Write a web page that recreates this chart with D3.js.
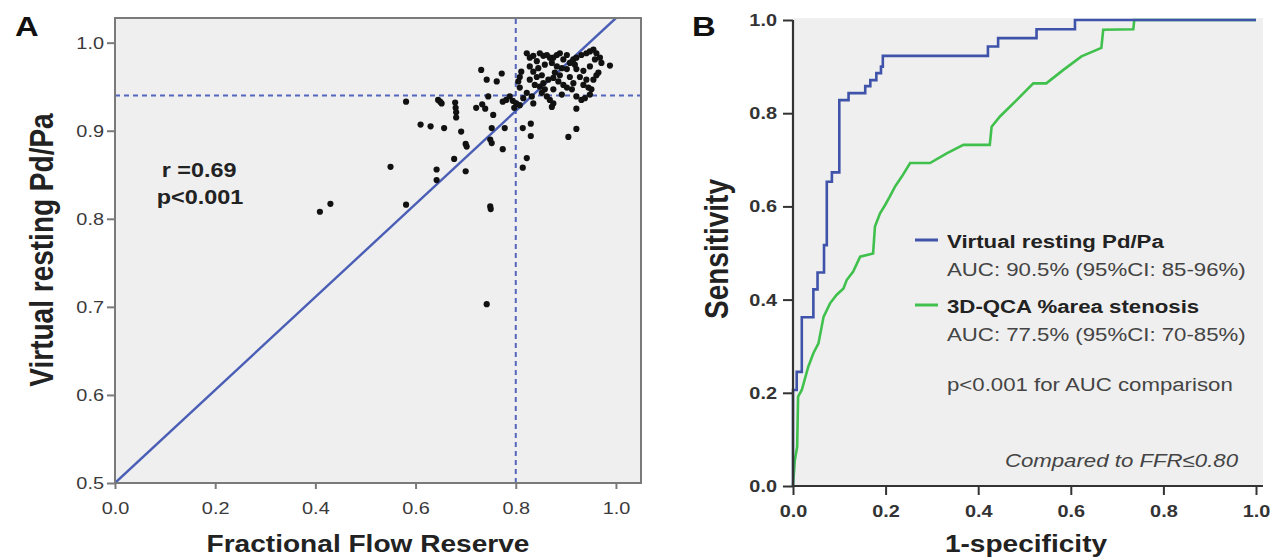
<!DOCTYPE html>
<html>
<head>
<meta charset="utf-8">
<script src="https://cdn.jsdelivr.net/npm/d3@7"></script>
<style>
  body { margin: 0; background: #fff; }
  svg { display: block; font-family: "Liberation Sans", Arial, sans-serif; }
</style>
</head>
<body>
<script>
(function(){

  //panel A: FFR vs virtual resting Pd/Pa (one value per lesion)
  var ffrValues = [0.409,0.430,0.550,0.581,0.581,0.645,0.649,0.652,0.610,0.630,
    0.657,0.642,0.642,0.679,0.680,0.681,0.681,0.691,0.700,0.702,
    0.677,0.700,0.731,0.742,0.762,0.772,0.721,0.733,0.739,0.745,
    0.755,0.752,0.749,0.752,0.774,0.778,0.749,0.750,0.742,0.814,
    0.830,0.830,0.822,0.814,0.905,0.921,0.921,0.872,0.988,0.774,
    0.781,0.788,0.794,0.801,0.797,0.808,0.808,0.808,0.811,0.805,
    0.822,0.828,0.835,0.842,0.848,0.855,0.862,0.868,0.875,0.882,
    0.888,0.895,0.902,0.908,0.915,0.921,0.931,0.941,0.948,0.955,
    0.961,0.958,0.948,0.935,0.921,0.928,0.941,0.955,0.961,0.965,
    0.828,0.835,0.845,0.858,0.872,0.882,0.892,0.902,0.918,0.828,
    0.838,0.848,0.855,0.865,0.875,0.885,0.895,0.902,0.912,0.921,
    0.931,0.938,0.948,0.951,0.862,0.852,0.868,0.875,0.822,0.815,
    0.832,0.842,0.852,0.878,0.888,0.908,0.915,0.935,0.945,0.971,
    0.968,0.875,0.892,0.858,0.835];
  var pdpaValues = [0.808,0.817,0.859,0.816,0.933,0.935,0.933,0.931,0.907,0.905,
    0.903,0.856,0.844,0.932,0.926,0.921,0.915,0.899,0.885,0.882,
    0.868,0.854,0.969,0.958,0.956,0.965,0.926,0.930,0.925,0.939,
    0.918,0.903,0.890,0.886,0.879,0.903,0.814,0.811,0.703,0.903,
    0.908,0.894,0.869,0.858,0.893,0.902,0.925,0.927,0.974,0.933,
    0.935,0.939,0.934,0.931,0.926,0.929,0.949,0.961,0.967,0.956,
    0.988,0.983,0.985,0.979,0.988,0.985,0.986,0.983,0.983,0.986,
    0.988,0.981,0.986,0.977,0.981,0.983,0.986,0.988,0.990,0.992,
    0.988,0.981,0.973,0.968,0.970,0.961,0.958,0.958,0.963,0.966,
    0.973,0.967,0.971,0.975,0.977,0.973,0.971,0.970,0.975,0.958,
    0.952,0.950,0.954,0.958,0.960,0.956,0.952,0.949,0.947,0.939,
    0.935,0.937,0.941,0.947,0.939,0.943,0.935,0.947,0.943,0.937,
    0.939,0.961,0.963,0.966,0.963,0.961,0.954,0.952,0.949,0.977,
    0.983,0.931,0.941,0.947,0.931];

  var fitIntercept = 0.5, fitSlope = 0.528; //fit line
  var ffrCutoff = 0.80, pdpaCutoff = 0.94;   //dashed reference lines
  var statText = ["r =0.69", "p<0.001"];

  var xTicksA = [0.0, 0.2, 0.4, 0.6, 0.8, 1.0];
  var yTicksA = [0.5, 0.6, 0.7, 0.8, 0.9, 1.0];
  var ticksB = [0.0, 0.2, 0.4, 0.6, 0.8, 1.0];

  //panel B: ROC curves (corner points)
  var virtualFpr = [0,0,0.008,0.008,0.019,0.019,0.044,0.044,0.053,0.053,0.067,0.067,0.073,0.073,
    0.084,0.084,0.100,0.100,0.120,0.120,0.156,0.156,0.167,0.167,0.180,0.180,0.190,0.190,0.194,0.194,
    0.421,0.421,0.443,0.443,0.526,0.526,0.609,0.609,1.0];
  var virtualSens = [0,0.206,0.206,0.245,0.245,0.362,0.362,0.422,0.422,0.458,0.458,0.517,0.517,0.653,
    0.653,0.673,0.673,0.828,0.828,0.843,0.843,0.858,0.858,0.871,0.871,0.886,0.886,0.900,0.900,0.923,
    0.923,0.943,0.943,0.961,0.961,0.980,0.980,1.0,1.0];
  var qcaFpr = [0,0.004,0.009,0.011,0.019,0.033,0.044,0.055,0.066,0.080,0.094,0.109,0.116,0.130,
    0.145,0.173,0.177,0.188,0.199,0.209,0.220,0.235,0.253,0.296,0.332,0.368,0.425,0.429,0.447,
    0.483,0.519,0.547,0.584,0.623,0.666,0.670,0.735,0.737,1.0];
  var qcaSens = [0,0.056,0.084,0.192,0.206,0.256,0.285,0.306,0.363,0.392,0.410,0.424,0.442,0.460,
    0.492,0.499,0.557,0.585,0.603,0.621,0.642,0.664,0.693,0.693,0.714,0.732,0.732,0.771,0.793,
    0.828,0.864,0.864,0.893,0.922,0.940,0.979,0.980,1.0,1.0];

  var legendNames = ["Virtual resting Pd/Pa", "3D-QCA %area stenosis"];
  var legendAuc = ["AUC: 90.5% (95%CI: 85-96%)", "AUC: 77.5% (95%CI: 70-85%)"];
  var legendColors = ["#3e53a9", "#40c04c"];
  var pText = "p<0.001 for AUC comparison";
  var refText = "Compared to FFR\u22640.80";

  var width = 1271, height = 560;
  var sx = 1.17; //original figure is stretched horizontally

  var svg = d3.select("body")
    .append("svg")
    .attr("width", width)
    .attr("height", height);

  drawScatter();
  drawRoc();

  //move x/y into a transform so text can be stretched like the figure
  function stretch(selection, rotate){
    selection.each(function(){
      var t = d3.select(this);
      var x = +t.attr("x") || 0, y = +t.attr("y") || 0;
      t.attr("x", null).attr("y", null)
        .attr("transform", "translate(" + x + "," + y + ") scale(" + sx + ",1)" + (rotate ? " rotate(-90)" : ""));
    });
    return selection;
  };

  function addText(g, x, y, str, size, weight, anchor, fill, rotate, italic){
    var t = g.append("text")
      .attr("x", x)
      .attr("y", y)
      .attr("font-size", size)
      .attr("font-weight", weight)
      .attr("font-style", italic ? "italic" : "normal")
      .attr("text-anchor", anchor)
      .style("fill", fill)
      .text(str);
    stretch(t, rotate);
    return t;
  };

  function styleAxis(axisG, size, weight, fill, tickColor){
    axisG.attr("font-size", size).attr("font-family", null);
    axisG.selectAll("text").attr("font-weight", weight).style("fill", fill);
    axisG.selectAll(".tick line").style("stroke", tickColor).style("stroke-width", 2);
    stretch(axisG.selectAll("text"), false);
  };

  //scatter plot with fit line
  function drawScatter(){
    var x = d3.scaleLinear().domain([0, 1.05]).range([115, 641]);
    var y = d3.scaleLinear().domain([0.5, 1.028]).range([483, 18]);
    var g = svg.append("g").attr("class", "panelA");

    g.append("rect")
      .attr("x", x(0)).attr("y", y(1.028))
      .attr("width", x(1.05) - x(0)).attr("height", y(0.5) - y(1.028))
      .style("fill", "#efefef");

    g.append("clipPath").attr("id", "clipA")
      .append("rect")
      .attr("x", x(0)).attr("y", y(1.028))
      .attr("width", x(1.05) - x(0)).attr("height", y(0.5) - y(1.028));

    var inner = g.append("g").attr("clip-path", "url(#clipA)");

    //cutoff lines
    inner.append("line")
      .attr("x1", x(ffrCutoff)).attr("x2", x(ffrCutoff))
      .attr("y1", y(0.5)).attr("y2", y(1.028))
      .style("stroke", "#5467bd").style("stroke-width", 2).style("stroke-dasharray", "5,4");
    inner.append("line")
      .attr("x1", x(0)).attr("x2", x(1.05))
      .attr("y1", y(pdpaCutoff)).attr("y2", y(pdpaCutoff))
      .style("stroke", "#5467bd").style("stroke-width", 2).style("stroke-dasharray", "5,4");

    //fit line
    var xEnd = (1.028 - fitIntercept) / fitSlope;
    inner.append("line")
      .attr("x1", x(0)).attr("y1", y(fitIntercept))
      .attr("x2", x(xEnd)).attr("y2", y(fitIntercept + fitSlope * xEnd))
      .style("stroke", "#4a5eb6").style("stroke-width", 2.4);

    //points
    inner.selectAll(".dot")
      .data(ffrValues)
      .enter()
      .append("circle")
      .attr("class", "dot")
      .attr("cx", function(d){ return x(d); })
      .attr("cy", function(d, i){ return y(pdpaValues[i]); })
      .attr("r", 3.1)
      .style("fill", "#111");

    //frame
    g.append("rect")
      .attr("x", x(0)).attr("y", y(1.028))
      .attr("width", x(1.05) - x(0)).attr("height", y(0.5) - y(1.028))
      .style("fill", "none").style("stroke", "#7a7a7a").style("stroke-width", 2);

    var xAxis = g.append("g")
      .attr("transform", "translate(0," + y(0.5) + ")")
      .call(d3.axisBottom(x).tickValues(xTicksA).tickFormat(d3.format(".1f")).tickSize(6).tickPadding(13));
    xAxis.select(".domain").remove();
    styleAxis(xAxis, 17, "normal", "#3a3a3a", "#7a7a7a");

    var yAxis = g.append("g")
      .attr("transform", "translate(" + x(0) + ",0)")
      .call(d3.axisLeft(y).tickValues(yTicksA).tickFormat(d3.format(".1f")).tickSize(8).tickPadding(3));
    yAxis.select(".domain").remove();
    styleAxis(yAxis, 17, "normal", "#3a3a3a", "#7a7a7a");

    addText(svg, 15, 36, "A", 28, "bold", "start", "#111", false);
    addText(svg, 199, 177, statText[0], 20, "bold", "middle", "#222", false);
    addText(svg, 200, 204, statText[1], 20, "bold", "middle", "#222", false);
    addText(svg, 368, 552, "Fractional Flow Reserve", 24, "bold", "middle", "#222", false);
    addText(svg, 53, 250, "Virtual resting Pd/Pa", 28, "bold", "middle", "#222", true);
  };

  //ROC curves
  function drawRoc(){
    var x = d3.scaleLinear().domain([0, 1]).range([793, 1256]);
    var y = d3.scaleLinear().domain([0, 1]).range([486, 20]);
    var g = svg.append("g").attr("class", "panelB");

    g.append("rect")
      .attr("x", x(0)).attr("y", y(1.004))
      .attr("width", x(1.015) - x(0)).attr("height", y(0) - y(1.004))
      .style("fill", "#efefef");

    var line = d3.line()
      .x(function(d){ return x(d[0]); })
      .y(function(d){ return y(d[1]); });

    var curves = [d3.zip(qcaFpr, qcaSens), d3.zip(virtualFpr, virtualSens)];
    g.selectAll(".roc")
      .data(curves)
      .enter()
      .append("path")
      .attr("class", "roc")
      .attr("d", line)
      .style("fill", "none")
      .style("stroke", function(d, i){ return legendColors[1 - i]; })
      .style("stroke-width", 2.6)
      .style("stroke-linejoin", "miter");

    //axes
    var xAxis = g.append("g")
      .attr("transform", "translate(0," + y(0) + ")")
      .call(d3.axisBottom(x).tickValues(ticksB).tickFormat(d3.format(".1f")).tickSize(9).tickPadding(10));
    xAxis.select(".domain").remove();
    styleAxis(xAxis, 17, "bold", "#333", "#333");

    var yAxis = g.append("g")
      .attr("transform", "translate(" + x(0) + ",0)")
      .call(d3.axisLeft(y).tickValues(ticksB).tickFormat(d3.format(".1f")).tickSize(10).tickPadding(6));
    yAxis.select(".domain").remove();
    styleAxis(yAxis, 17, "bold", "#333", "#333");

    g.append("line")
      .attr("x1", x(0)).attr("x2", x(1.015))
      .attr("y1", y(0)).attr("y2", y(0))
      .style("stroke", "#333").style("stroke-width", 2.2);
    g.append("line")
      .attr("x1", x(0)).attr("x2", x(0))
      .attr("y1", y(0)).attr("y2", y(1))
      .style("stroke", "#333").style("stroke-width", 2.2);

    //legend
    var legendY = [240, 305];
    legendNames.forEach(function(name, i){
      g.append("line")
        .attr("x1", 915).attr("x2", 938)
        .attr("y1", legendY[i]).attr("y2", legendY[i])
        .style("stroke", legendColors[i]).style("stroke-width", 3);
      addText(g, 947, legendY[i] + 8, name, 19, "bold", "start", "#222", false);
      addText(g, 947, legendY[i] + 36, legendAuc[i], 19, "normal", "start", "#444", false);
    });
    addText(g, 947, 391, pText, 19, "normal", "start", "#444", false);
    addText(g, 1238, 467, refText, 19, "normal", "end", "#444", false, true);

    addText(svg, 692, 36, "B", 28, "bold", "start", "#111", false);
    addText(svg, 1026, 552, "1-specificity", 24, "bold", "middle", "#222", false);
    addText(svg, 728, 249, "Sensitivity", 28, "bold", "middle", "#222", true);
  };
})();
</script>
</body>
</html>
